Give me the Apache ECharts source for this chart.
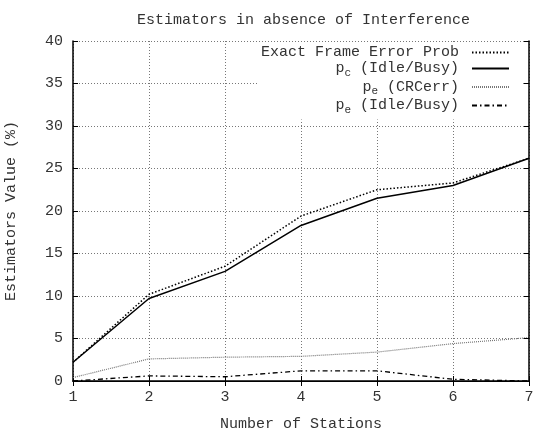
<!DOCTYPE html>
<html><head><meta charset="utf-8">
<script src="https://cdn.jsdelivr.net/npm/echarts@6/dist/echarts.min.js"></script>
<style>html,body{margin:0;padding:0;background:#fff}#c{width:538px;height:432px}</style>
</head><body><div id="c"></div>
<script>
var stations = [1, 2, 3, 4, 5, 6, 7];
var exactFER = [2.2, 10.2, 13.5, 19.4, 22.5, 23.3, 26.2];
var pcIdleBusy = [2.2, 9.7, 12.9, 18.3, 21.5, 23.0, 26.2];
var peCRCerr = [0.4, 2.6, 2.8, 2.9, 3.4, 4.4, 5.1];
var peIdleBusy = [0.0, 0.6, 0.5, 1.2, 1.2, 0.2, 0.0];
var names = ['Exact Frame Error Prob', 'pc (Idle/Busy)', 'pe (CRCerr)', 'pe (Idle/Busy)'];
var legendLabels = {
  'Exact Frame Error Prob': 'Exact Frame Error Prob',
  'pc (Idle/Busy)': '{n|p}{s|c}{n| (Idle/Busy)}',
  'pe (CRCerr)': '{n|p}{s|e}{n| (CRCerr)}',
  'pe (Idle/Busy)': '{n|p}{s|e}{n| (Idle/Busy)}'
};
function pairs(arr){ return stations.map(function(x,i){return [x, arr[i]];}); }
var font = 'Liberation Mono';
var fs = 15;
var chart = echarts.init(document.getElementById('c'));
var ink = '#333';
chart.setOption({
  animation: false,
  textStyle: {fontFamily: font},
  title: {text: 'Estimators in absence of Interference', left: 132, top: 8,
    textStyle: {fontFamily: font, fontSize: fs, fontWeight: 'normal', color: ink}},
  grid: {left: 73, right: 9, top: 41, bottom: 51, outerBoundsMode: 'none', containLabel: false},
  legend: {
    orient: 'vertical', right: 17, top: 43, align: 'right',
    backgroundColor: '#fff', padding: [2, 11, 4, 3],
    itemWidth: 37, itemHeight: 14, itemGap: 1,
    data: names,
    itemStyle: {opacity: 0},
    formatter: function(n){ return legendLabels[n]; },
    textStyle: {fontFamily: font, fontSize: fs, color: ink, padding: [0, 8, 0, 0],
      rich: {n: {fontFamily: font, fontSize: fs, color: ink},
             s: {fontFamily: font, fontSize: 11, color: ink, padding: [9, 0, 0, 0]}}}
  },
  xAxis: [{
    type: 'value', min: 1, max: 7, interval: 1,
    name: 'Number of Stations', nameLocation: 'middle', nameGap: 36,
    nameTextStyle: {fontFamily: font, fontSize: fs, color: ink},
    axisLine: {lineStyle: {color: '#000', width: 1.5}},
    axisTick: {inside: true, length: 5, lineStyle: {color: '#000'}},
    axisLabel: {fontFamily: font, fontSize: fs, color: ink, margin: 9},
    splitLine: {show: true, lineStyle: {color: '#777', type: [1, 2]}}
  }, {
    type: 'value', min: 1, max: 7, interval: 1, position: 'top', z: 5,
    axisLine: {show: true, lineStyle: {color: '#000', width: 1}},
    axisTick: {show: true, inside: true, length: 5, lineStyle: {color: '#000'}},
    axisLabel: {show: false}, splitLine: {show: false}
  }],
  yAxis: [{
    type: 'value', min: 0, max: 40, interval: 5,
    name: 'Estimators Value (%)', nameLocation: 'middle', nameGap: 54,
    nameTextStyle: {fontFamily: font, fontSize: fs, color: ink},
    axisLine: {show: true, lineStyle: {color: '#000', width: 1.5}},
    axisTick: {show: true, inside: true, length: 5, lineStyle: {color: '#000'}},
    axisLabel: {fontFamily: font, fontSize: fs, color: ink, margin: 10},
    splitLine: {show: true, lineStyle: {color: '#777', type: [1, 2]}}
  }, {
    type: 'value', min: 0, max: 40, interval: 5, position: 'right', z: 5,
    axisLine: {show: true, lineStyle: {color: '#000', width: 1.5}},
    axisTick: {show: true, inside: true, length: 5, lineStyle: {color: '#000'}},
    axisLabel: {show: false}, splitLine: {show: false}
  }],
  series: [
    {name: names[0], type: 'line', data: pairs(exactFER), symbol: 'none',
      lineStyle: {color: '#000', width: 1.5, type: [1.5, 2]}, itemStyle: {color: '#000'}},
    {name: names[1], type: 'line', data: pairs(pcIdleBusy), symbol: 'none',
      lineStyle: {color: '#000', width: 1.5, type: 'solid'}, itemStyle: {color: '#000'}},
    {name: names[2], type: 'line', data: pairs(peCRCerr), symbol: 'none',
      lineStyle: {color: '#777', width: 1.2, type: [1, 1]}, itemStyle: {color: '#777'}},
    {name: names[3], type: 'line', data: pairs(peIdleBusy), symbol: 'none',
      lineStyle: {color: '#000', width: 1.3, type: [5, 3, 1.5, 3]}, itemStyle: {color: '#000'}}
  ]
});
</script></body></html>
